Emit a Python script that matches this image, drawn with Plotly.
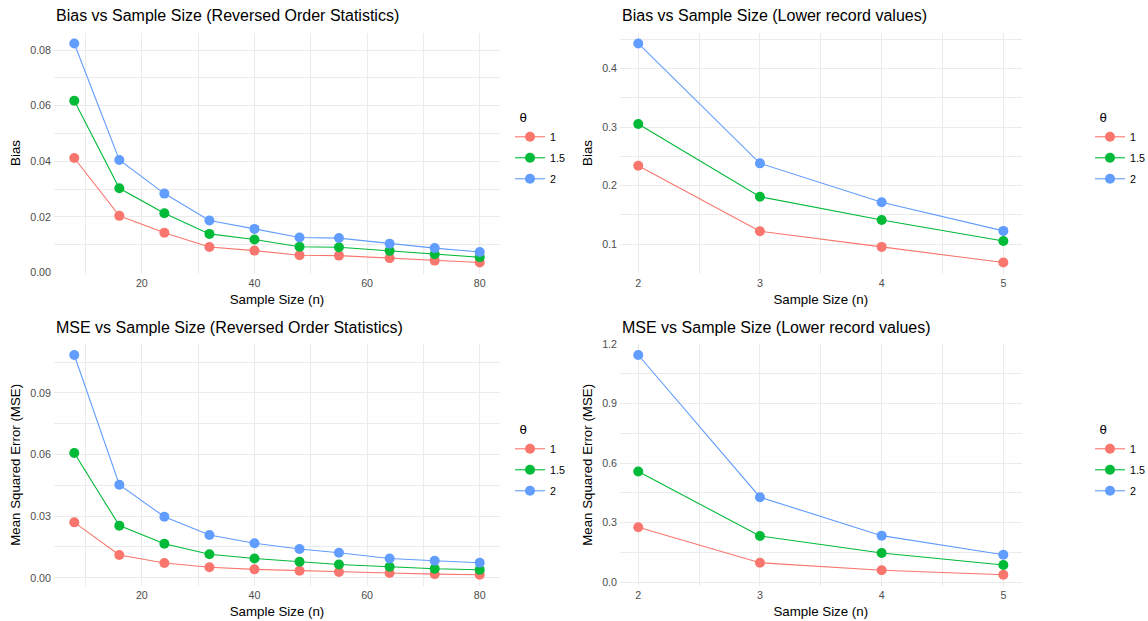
import plotly.graph_objects as go

# ---------------- data ----------------
n_ros = [8, 16, 24, 32, 40, 48, 55, 64, 72, 80]
n_lrv = [2, 3, 4, 5]
thetas = ["1", "1.5", "2"]
colors = ["#F8766D", "#00BA38", "#619CFF"]

bias_ros_1 = [0.0412, 0.0204, 0.0143, 0.0092, 0.0079, 0.0062, 0.0061, 0.0052, 0.0043, 0.0036]
bias_ros_15 = [0.0618, 0.0303, 0.0213, 0.0139, 0.0119, 0.0093, 0.0091, 0.0078, 0.0066, 0.0055]
bias_ros_2 = [0.0824, 0.0405, 0.0284, 0.0187, 0.0157, 0.0126, 0.0124, 0.0104, 0.0088, 0.0074]

bias_lrv_1 = [0.234, 0.1222, 0.0954, 0.0687]
bias_lrv_15 = [0.305, 0.1811, 0.1414, 0.1056]
bias_lrv_2 = [0.4426, 0.238, 0.1716, 0.1227]

mse_ros_1 = [0.0270, 0.0111, 0.0072, 0.0051, 0.0041, 0.0034, 0.0028, 0.0023, 0.0018, 0.0015]
mse_ros_15 = [0.0608, 0.0254, 0.0166, 0.0115, 0.0094, 0.0078, 0.0065, 0.0054, 0.0044, 0.0039]
mse_ros_2 = [0.1085, 0.0453, 0.0297, 0.0208, 0.0168, 0.0140, 0.0122, 0.0094, 0.0083, 0.0073]

mse_lrv_1 = [0.2773, 0.0988, 0.0605, 0.0383]
mse_lrv_15 = [0.5577, 0.2335, 0.1477, 0.0872]
mse_lrv_2 = [1.1447, 0.4286, 0.235, 0.139]

panels = [
    dict(title="Bias vs Sample Size (Reversed Order Statistics)", ytitle="Bias",
         x=n_ros, ys=[bias_ros_1, bias_ros_15, bias_ros_2]),
    dict(title="Bias vs Sample Size (Lower record values)", ytitle="Bias",
         x=n_lrv, ys=[bias_lrv_1, bias_lrv_15, bias_lrv_2]),
    dict(title="MSE vs Sample Size (Reversed Order Statistics)", ytitle="Mean Squared Error (MSE)",
         x=n_ros, ys=[mse_ros_1, mse_ros_15, mse_ros_2]),
    dict(title="MSE vs Sample Size (Lower record values)", ytitle="Mean Squared Error (MSE)",
         x=n_lrv, ys=[mse_lrv_1, mse_lrv_15, mse_lrv_2]),
]

W, H = 1148, 621
FONT = "Liberation Sans, Arial, sans-serif"

# pixel boxes of panels (left, right, top, bottom)
boxes = [
    (54, 500, 32.5, 273.5),
    (620, 1021.6, 32.5, 273.5),
    (54, 500, 344, 585.7),
    (620, 1021.6, 344, 585.7),
]
xticks = [dict(dtick=20, minor=10), dict(dtick=1, minor=0.5),
          dict(dtick=20, minor=10), dict(dtick=1, minor=0.5)]
yticks = [dict(dtick=0.02, minor=0.01, fmt=".2f"), dict(dtick=0.1, minor=0.05, fmt=".1f"),
          dict(dtick=0.03, minor=0.015, fmt=".2f"), dict(dtick=0.3, minor=0.15, fmt=".1f")]
legend_pos = [(510, 105), (1090, 105), (510, 417), (1090, 417)]

fig = go.Figure()
layout = dict(width=W, height=H, margin=dict(l=0, r=0, t=0, b=0, autoexpand=False),
              plot_bgcolor="white", paper_bgcolor="white",
              font=dict(family=FONT, color="black"), annotations=[])

for i, p in enumerate(panels):
    k = "" if i == 0 else str(i + 1)
    leg = "legend" if i == 0 else "legend" + str(i + 1)
    for j, th in enumerate(thetas):
        fig.add_trace(go.Scatter(
            x=p["x"], y=p["ys"][j], mode="lines+markers", name=th,
            line=dict(color=colors[j], width=1.1),
            marker=dict(color=colors[j], size=10),
            xaxis="x" + k, yaxis="y" + k, legend=leg, legendgroup=f"g{i}{j}",
        ))
    l, r, t, b = boxes[i]
    xs = p["x"]
    xr = (max(xs) - min(xs)) * 0.05
    allys = [v for s in p["ys"] for v in s]
    yr = (max(allys) - min(allys)) * 0.05
    grid = "#EBEBEB"
    layout["xaxis" + k] = dict(
        domain=[l / W, r / W], anchor="y" + k, automargin=False,
        range=[min(xs) - xr, max(xs) + xr],
        tick0=0, dtick=xticks[i]["dtick"], showgrid=True, gridcolor=grid, gridwidth=1.1,
        minor=dict(dtick=xticks[i]["minor"], tick0=0, showgrid=True, gridcolor=grid, gridwidth=0.55),
        zeroline=False, showline=False, ticks="", ticklabelstandoff=2,
        tickfont=dict(size=10.7, color="#4D4D4D", family=FONT),
        title=dict(text="Sample Size (n)", font=dict(size=13.3, color="black", family=FONT), standoff=6),
    )
    layout["yaxis" + k] = dict(
        domain=[1 - b / H, 1 - t / H], anchor="x" + k, automargin=False,
        range=[min(allys) - yr, max(allys) + yr],
        tick0=0, dtick=yticks[i]["dtick"], tickformat=yticks[i]["fmt"],
        showgrid=True, gridcolor=grid, gridwidth=1.1,
        minor=dict(dtick=yticks[i]["minor"], tick0=0, showgrid=True, gridcolor=grid, gridwidth=0.55),
        zeroline=False, showline=False, ticks="", ticklabelstandoff=2,
        tickfont=dict(size=10.7, color="#4D4D4D", family=FONT),
        title=dict(text=p["ytitle"], font=dict(size=13.3, color="black", family=FONT), standoff=6),
    )
    lx, ly = legend_pos[i]
    layout[leg] = dict(
        x=lx / W, y=1 - ly / H, xanchor="left", yanchor="top",
        title=dict(text="\u00a0\u00a0θ", font=dict(size=13.3, family=FONT)),
        font=dict(size=10.7, family=FONT), bgcolor="rgba(0,0,0,0)",
        tracegroupgap=2,
    )
    layout["annotations"].append(dict(
        text=p["title"], x=l / W, y=1 - (t - 6) / H, xref="paper", yref="paper",
        xanchor="left", yanchor="bottom", showarrow=False,
        font=dict(size=16, color="black", family=FONT),
    ))

fig.update_layout(**layout)
fig.write_html("out.html", config={"displayModeBar": False},
               post_script="document.body.style.margin='0';document.body.style.overflow='hidden';")
